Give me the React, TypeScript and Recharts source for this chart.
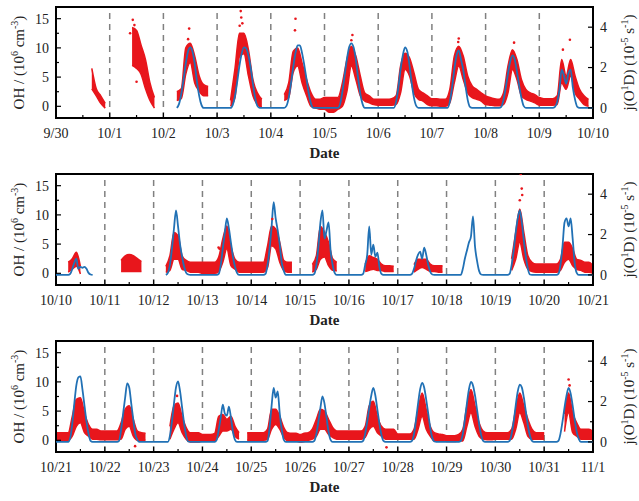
import { ComposedChart, Line, Area, Scatter, XAxis, YAxis, ReferenceLine, ReferenceArea } from 'recharts';

const _ = null;

// date tick labels, index = days since 9/30
const dateLabels = [
  '9/30', '10/1', '10/2', '10/3', '10/4', '10/5', '10/6', '10/7', '10/8', '10/9', '10/10',
  '10/11', '10/12', '10/13', '10/14', '10/15', '10/16', '10/17', '10/18', '10/19', '10/20',
  '10/21', '10/22', '10/23', '10/24', '10/25', '10/26', '10/27', '10/28', '10/29', '10/30',
  '10/31', '11/1',
];

// OH (10^6 cm^-3), spread of the measured points every 2 hours, one row per day
const redHours = [0, 2, 4, 6, 8, 10, 12, 14, 16, 18, 20, 22];
const ohLow = [
  [_, _, _, _, _, _, _, _, 3, 1.8, 0.5, -0.3],
  [_, _, _, _, _, 7, 6.5, 5.5, 3, 1, -0.3, _],
  [_, _, _, 1, 1.3, 5.5, 7.5, 4, 2.6, 1.8, 1.8, _],
  [_, _, _, 0, 1.5, 8.5, 9, 5.2, 1.8, 0.3, -0.2, _],
  [_, _, _, 1, 1.5, 5.8, 6.9, 4, 1.8, 0, -0.3, -0.5],
  [-0.5, -1, -1, -0.5, 0, 2.5, 6.9, 4.6, 1.8, 0.9, 0.6, 0.3],
  [0.2, 0.2, 0.2, 0.2, 0.3, 2.3, 6.3, 5.2, 2.3, 1.2, 0.9, 0.3],
  [0.1, 0.1, 0, 0, 0.6, 4, 6.9, 4.6, 2.3, 1.5, 1.2, 0.9],
  [0.3, 0.2, 0.1, 0.1, 0.3, 2.3, 6.3, 4.6, 1.8, 1.2, 0.9, 0.6],
  [0.2, 0.2, 0.2, 0.2, 0.3, 4, 2.9, 5.2, 2.3, 1.2, 0.3, 0],
  [_, _, _, 0.2, 0.7, 1.2, -0.1, _, _, _, _, _],
  [_, _, _, _, 0.3, 0.3, 0.3, 0.3, 0.3, 0.3, _, _],
  [_, _, _, 0.2, 0.5, 2.4, 2.4, 0.7, 0.5, 0.2, 0.2, 0.2],
  [0, 0, 0, 0, 0.3, 1.9, 4.2, 1.3, 0.7, 0.2, 0.2, 0.2],
  [0.2, 0.2, 0.2, 0.2, 1, 4.7, 4.2, 1.9, 0.5, 0.2, 0.2, _],
  [_, _, _, 0.2, 0.7, 2.4, 2.8, 1.3, 0.5, 0.4, _, _],
  [_, _, _, _, 0.3, 0.5, 0.7, 0.5, 0.5, 0.3, 0.3, 0.3],
  [_, _, _, _, 0.2, 0.7, 1, 0.7, 0.3, 0.3, 0.2, 0.2],
  [_, _, _, _, _, _, _, _, _, _, _, _],
  [_, _, _, _, 0.5, 2.4, 5.3, 2.4, 0.7, 0.3, 0.2, 0.2],
  [0.2, 0.2, 0.2, 0.2, 0.5, 1.9, 2.4, 1.3, 0.7, 0.5, 0.2, 0.2],
  [0, 0, 0, 0, 0.7, 2.4, 3, 1.3, 0.7, 0.2, 0.2, 0.1],
  [0.1, 0.1, 0.1, 0.1, 0.2, 1.9, 2.4, 0.7, 0, 0, 0, _],
  [_, _, _, _, 0.2, 1.9, 3, 1.3, 0.2, -0.3, -0.3, -0.3],
  [-0.1, -0.1, -0.1, -0.1, 0.7, 1.6, 1.6, 1.9, 0.7, 0.2, _, 0],
  [0, 0, 0, 0, 0.2, 1.9, 2.7, 1.9, 0.5, -0.1, -0.1, -0.1],
  [-0.3, -0.2, 0, 0.2, 0.7, 1.9, 1.9, 1, 0.5, 0.2, 0.2, 0.2],
  [0.2, 0.2, 0.2, 0.2, 0.5, 1.9, 2.4, 1.3, 0.7, 0.2, 0.2, 0.2],
  [0.2, 0.2, 0.2, 0.2, 0.2, 1.9, 4.1, 1.9, 0.7, -0.1, -0.1, 0],
  [-0.2, -0.2, -0.2, -0.1, -0.1, 2.4, 4.7, 2.4, 0.7, 0.2, 0.1, 0.1],
  [0.2, 0.2, 0.2, 0.2, 0.2, 1.9, 4.7, 3, 0.7, 0.2, 0.2, 0.2],
  [0.2, _, _, _, _, 1.5, 4.7, 1.3, 0.7, 0.2, 0.2, 0.2],
  [0.2, _, _, _, _, _, _, _, _, _, _, _],
];
const ohHigh = [
  [_, _, _, _, _, _, _, _, 6.5, 3, 1.8, 0.5],
  [_, _, _, _, _, 13.5, 13, 10.5, 8, 4, 1.5, _],
  [_, _, _, 2.5, 3, 10, 10.8, 8.6, 5.2, 3.7, 3.4, _],
  [_, _, _, 1, 6.5, 12.5, 12.5, 9.7, 4.6, 2.3, 1.2, _],
  [_, _, _, 2, 4, 9.4, 10, 7.4, 4.6, 2.3, 1.2, 1.2],
  [1.5, 1.5, 1.5, 1.5, 4, 8, 10.3, 8.6, 5.2, 2.3, 1.8, 1.2],
  [1.2, 1.2, 1.2, 1.3, 1.8, 6.9, 9.1, 8.3, 5.7, 2.9, 2.3, 1.8],
  [1.3, 1.3, 1.2, 1.2, 2.9, 8.6, 10.3, 8.6, 5.2, 3.5, 2.9, 2.3],
  [1.8, 1.5, 1.3, 1.2, 2.3, 6.9, 9.7, 8, 4.6, 2.9, 2.3, 2],
  [1.5, 1.3, 1.3, 1.3, 1.8, 8, 5.2, 8, 5.2, 2.9, 1.8, 1.2],
  [_, _, _, 1.9, 2.5, 3.6, 1.2, _, _, _, _, _],
  [_, _, _, _, 2.2, 3, 3.2, 3, 2.5, 2, _, _],
  [_, _, _, 1.2, 3, 7, 6.4, 3, 2.2, 1.9, 1.9, 1.9],
  [1.9, 1.9, 1.9, 1.9, 2.8, 5.9, 8.1, 4.7, 2.4, 1.9, 1.9, 1.9],
  [1.9, 1.9, 1.9, 1.9, 4.7, 8.1, 7.6, 5.3, 2.2, 1.9, 1.9, _],
  [_, _, _, 1.5, 3, 8, 7, 5.3, 2.5, 1.9, _, _],
  [_, _, _, _, 1.5, 3, 2.7, 2.4, 1.6, 1.3, 1.3, 1.2],
  [_, _, _, _, 1.5, 2.4, 2.4, 2.4, 1.6, 1.3, 1.3, 1.3],
  [_, _, _, _, _, _, _, _, _, _, _, _],
  [_, _, _, _, 2.5, 7, 11, 7, 3, 1.9, 1.6, 1.6],
  [1.6, 1.6, 1.6, 1.6, 2.4, 5.3, 5.3, 4.2, 2.4, 2.2, 1.9, 1.9],
  [1.3, 1.3, 1.3, 1.3, 4.1, 7, 7.3, 4.7, 2.7, 1.9, 1.9, 1.6],
  [1.6, 1.6, 1.6, 1.6, 3, 5.3, 5.9, 3.6, 1.6, 1.3, 1.2, _],
  [_, _, _, _, 2.4, 5.9, 6.4, 4.1, 2.2, 1.3, 1.3, 1.3],
  [1, 1, 1, 1.2, 4.1, 4.4, 3.6, 4.1, 2.4, 1.3, _, 1.3],
  [1.3, 1.3, 1.3, 1.3, 1.9, 5.3, 5.3, 4.1, 2.2, 1.3, 1.2, 1.2],
  [1, 1.2, 1.3, 1.9, 3.6, 5.3, 5, 3.6, 2.2, 1.6, 1.6, 1.6],
  [1.6, 1.6, 1.6, 1.6, 2.4, 5.9, 6.7, 4.1, 2.4, 1.9, 1.9, 1.9],
  [1.1, 1.1, 1.1, 1.1, 1.9, 5.3, 8.1, 5.3, 2.4, 1.3, 1.1, 1],
  [0.8, 0.8, 0.8, 1, 1.9, 5.9, 8.7, 5.9, 3, 1.6, 1.3, 1.3],
  [1.3, 1.3, 1.3, 1.3, 1.9, 5.3, 8.1, 5.9, 3.6, 1.9, 1.3, 1.3],
  [1.3, _, _, _, _, 4.5, 8.1, 4.7, 3, 1.9, 1.9, 1.9],
  [1.5, _, _, _, _, _, _, _, _, _, _, _],
];

// isolated OH points outside the main band
const ohOutlierDay = [1.38, 1.43, 1.46, 1.5, 2.46, 2.48, 3.42, 3.44, 3.45, 3.47, 4.45, 4.46, 5.5, 5.52, 7.49, 7.5, 8.53, 9.44, 9.57, 13.33, 13.35, 14.43, 19.5, 19.52, 19.54, 19.55, 22.62, 23.48, 27.77, 31.5, 31.52];
const ohOutlierValue = [12.5, 14.8, 13.9, 4.2, 11.5, 13.3, 13.8, 16.3, 15.2, 14.2, 13, 15, 11.3, 12.2, 11, 11.6, 10.9, 9.7, 11.4, 4.4, 4.2, 9.3, 12.5, 17, 14.5, 13.4, -1, 7.6, -1.2, 10.4, 9.4];

// j(O1D) (10^-5 s^-1), hourly through daylight, one row per day
const blueHours = [0, 6, 7, 8, 9, 10, 11, 12, 13, 14, 15, 16, 17, 18, 19];
const jO1D = [
  [_, _, _, _, _, _, _, _, _, _, _, _, _, _, _],
  [_, _, _, _, _, _, _, _, _, _, _, _, _, _, _],
  [_, 0, 0.2, 0.7, 1.4, 2.2, 2.8, 3.0, 2.8, 2.2, 1.3, 0.6, 0.15, 0, 0],
  [0, 0, 0.15, 0.6, 1.3, 2.1, 2.7, 3.0, 2.95, 2.6, 2.0, 1.2, 0.5, 0.1, 0],
  [0, 0, 0.1, 0.5, 1.2, 2.0, 2.7, 3.1, 3.1, 2.7, 2.1, 1.4, 0.7, 0.2, 0],
  [0, 0, 0.2, 0.8, 1.6, 2.4, 3.0, 3.2, 3.0, 2.4, 1.5, 0.7, 0.2, 0, 0],
  [0, 0, 0, 0.3, 1.0, 1.9, 2.6, 3.0, 2.8, 2.1, 1.2, 0.5, 0.1, 0, 0],
  [0, 0, 0, 0.3, 1.0, 1.9, 2.6, 2.85, 2.4, 1.9, 1.1, 0.4, 0.05, 0, 0],
  [0, 0, 0.05, 0.4, 1.0, 1.7, 2.3, 2.6, 2.4, 1.8, 1.1, 0.5, 0.1, 0, 0],
  [0, 0, 0.05, 0.3, 0.9, 1.9, 1.6, 1.2, 1.7, 1.9, 1.0, 0.4, 0.05, 0, 0],
  [0, 0, 0.05, 0.3, 0.6, 0.8, 0.3, 0.4, 0.35, 0.4, 0.3, 0.1, 0.02, 0, _],
  [_, _, _, _, _, _, _, _, _, _, _, _, _, _, _],
  [_, 0, 0.1, 0.5, 1.3, 2.3, 3.2, 2.4, 1.5, 0.9, 0.4, 0.1, 0.02, 0, 0],
  [0, 0, 0, 0.05, 0.5, 1.3, 2.1, 2.8, 2.3, 1.6, 0.9, 0.4, 0.1, 0, 0],
  [0, 0, 0.05, 0.5, 1.3, 2.4, 3.6, 2.8, 2.2, 1.5, 0.6, 0.2, 0, 0, 0],
  [0, 0, 0.05, 0.5, 1.4, 2.6, 3.2, 1.8, 2.2, 2.6, 1.2, 0.5, 0.1, 0, 0],
  [0, 0, 0.05, 0.5, 1.0, 2.4, 1.0, 1.5, 0.9, 1.1, 0.4, 0.05, 0, 0, 0],
  [0, 0, 0.05, 0.3, 0.7, 1.0, 1.15, 0.8, 1.35, 1.0, 0.5, 0.15, 0.02, 0, 0],
  [0, 0, 0, 0.3, 0.8, 1.2, 1.6, 1.9, 2.9, 1.4, 0.7, 0.2, 0.02, 0, 0],
  [0, 0, 0.05, 0.5, 1.2, 2.1, 2.8, 3.2, 2.6, 1.7, 0.9, 0.3, 0.02, 0, 0],
  [0, 0, 0.05, 0.5, 1.4, 2.6, 2.8, 2.4, 2.8, 1.8, 0.6, 0.1, 0, 0, 0],
  [0, 0, 0.2, 0.9, 1.9, 2.8, 3.2, 3.25, 2.6, 1.8, 1.0, 0.4, 0.05, 0, 0],
  [0, 0, 0.05, 0.6, 1.4, 2.2, 2.9, 2.7, 1.9, 1.1, 0.4, 0.1, 0, 0, 0],
  [0, 0, 0, 0.3, 1.0, 1.9, 2.7, 3.0, 2.5, 1.7, 0.9, 0.3, 0.02, 0, 0],
  [0, 0, 0.1, 0.6, 1.2, 1.85, 1.4, 1.3, 1.75, 1.2, 0.5, 0.1, 0, 0, 0],
  [0, 0, 0, 0.05, 0.7, 1.8, 2.67, 2.2, 2.5, 1.4, 0.6, 0.1, 0, 0, 0],
  [0, 0, 0.05, 0.4, 1.0, 1.7, 2.26, 1.9, 1.2, 0.5, 0.1, 0, 0, 0, 0],
  [0, 0, 0.05, 0.4, 1.0, 1.7, 2.3, 2.68, 2.3, 1.6, 0.9, 0.35, 0.05, 0, 0],
  [0, 0, 0.05, 0.4, 1.1, 1.9, 2.6, 2.93, 2.7, 2.1, 1.4, 0.7, 0.2, 0.02, 0],
  [0, 0, 0.05, 0.4, 1.1, 1.9, 2.6, 2.97, 2.8, 2.3, 1.6, 0.9, 0.35, 0.05, 0],
  [0, 0, 0.05, 0.4, 1.0, 1.8, 2.5, 2.84, 2.7, 2.2, 1.5, 0.8, 0.3, 0.05, 0],
  [0, 0, 0.05, 0.4, 1.0, 1.7, 2.3, 2.68, 2.4, 1.8, 1.1, 0.5, 0.15, 0, 0],
  [0, _, _, _, _, _, _, _, _, _, _, _, _, _, _],
];

const panels = [
  { from: 0, to: 10, top: 0 },
  { from: 10, to: 21, top: 167 },
  { from: 21, to: 32, top: 334 },
];

const W = 639;
const H = 167;
const PLOT_LEFT = 56;
const PLOT_RIGHT = 593;
const PLOT_TOP = 7;
const PLOT_BOTTOM = 118;
const FONT = '"Liberation Serif", "Times New Roman", serif';
const RED = '#e8161c';
const BLUE = '#2171b5';

const buildRed = (from: number, to: number) => {
  const rows: { t: number; band: (number | null)[] }[] = [];
  for (let d = from; d <= to; d++) {
    redHours.forEach((h, i) => {
      const t = d + h / 24;
      if (t > to) return;
      const lo = ohLow[d][i];
      const hi = ohHigh[d][i];
      rows.push({ t, band: lo == null || hi == null ? [null, null] : [lo, hi] });
    });
  }
  return rows;
};

const buildBlue = (from: number, to: number) => {
  const rows: { t: number; j: number | null }[] = [];
  for (let d = from; d <= to; d++) {
    blueHours.forEach((h, i) => {
      const t = d + h / 24;
      if (t > to) return;
      rows.push({ t, j: jO1D[d][i] });
    });
  }
  return rows;
};

const buildOutliers = (from: number, to: number) =>
  ohOutlierDay
    .map((t, i) => ({ t, v: ohOutlierValue[i] }))
    .filter((p) => p.t >= from && p.t <= to);

const XTick = (props: any) => {
  const { x, payload } = props;
  const v = payload.value;
  const major = Number.isInteger(v);
  return (
    <g>
      <line x1={x} x2={x} y1={PLOT_BOTTOM} y2={PLOT_BOTTOM - (major ? 5 : 3)} stroke="#000" strokeWidth={1.2} />
      {major && (
        <text x={x} y={PLOT_BOTTOM + 15} dy="0.35em" textAnchor="middle" fontFamily={FONT} fontSize={14} fill="#222">
          {dateLabels[v]}
        </text>
      )}
    </g>
  );
};

const LeftTick = (props: any) => {
  const { y, payload } = props;
  const v = payload.value;
  const major = v % 5 === 0;
  return (
    <g>
      <line x1={PLOT_LEFT} x2={PLOT_LEFT + (major ? 5 : 3)} y1={y} y2={y} stroke="#000" strokeWidth={1.2} />
      {major && (
        <text x={PLOT_LEFT - 7} y={y} dy="0.35em" textAnchor="end" fontFamily={FONT} fontSize={14} fill="#222">
          {v}
        </text>
      )}
    </g>
  );
};

const RightTick = (props: any) => {
  const { y, payload } = props;
  const v = payload.value;
  const major = v % 2 === 0;
  return (
    <g>
      <line x1={PLOT_RIGHT} x2={PLOT_RIGHT - (major ? 5 : 3)} y1={y} y2={y} stroke="#000" strokeWidth={1.2} />
      {major && (
        <text x={PLOT_RIGHT + 7} y={y} dy="0.35em" textAnchor="start" fontFamily={FONT} fontSize={14} fill="#222">
          {v}
        </text>
      )}
    </g>
  );
};

const RedDot = (props: any) => <circle cx={props.cx} cy={props.cy} r={1.3} fill={RED} />;

// same axes for the background layer (dashed day lines) and the data layer
const axes = (from: number, to: number, xTicks: number[], withTicks: boolean) => [
  <XAxis
    key="x"
    dataKey="t"
    type="number"
    domain={[from, to]}
    ticks={xTicks}
    interval={0}
    allowDataOverflow
    height={H - PLOT_BOTTOM}
    axisLine={false}
    tickLine={false}
    tick={withTicks ? (p: any) => <XTick {...p} /> : false}
  />,
  <YAxis
    key="oh"
    yAxisId="oh"
    type="number"
    domain={[-2, 17]}
    ticks={[0, 2.5, 5, 7.5, 10, 12.5, 15]}
    interval={0}
    allowDataOverflow
    width={PLOT_LEFT}
    axisLine={false}
    tickLine={false}
    tick={withTicks ? (p: any) => <LeftTick {...p} /> : false}
  />,
  <YAxis
    key="j"
    yAxisId="j"
    orientation="right"
    type="number"
    domain={[-0.5, 5]}
    ticks={[0, 1, 2, 3, 4]}
    interval={0}
    allowDataOverflow
    width={W - PLOT_RIGHT}
    axisLine={false}
    tickLine={false}
    tick={withTicks ? (p: any) => <RightTick {...p} /> : false}
  />,
];

const Panel = ({ from, to, top }: { from: number; to: number; top: number }) => {
  const xTicks: number[] = [];
  for (let v = from; v <= to; v += 0.5) xTicks.push(v);
  const dayLines: number[] = [];
  for (let d = from + 1; d < to; d++) dayLines.push(d);
  const margin = { top: PLOT_TOP, right: 0, bottom: 0, left: 0 };

  return (
    <div style={{ position: 'absolute', left: 0, top, width: W, height: H }}>
      <div style={{ position: 'absolute', left: 0, top: 0 }}>
        <ComposedChart width={W} height={H} margin={margin}>
          {axes(from, to, xTicks, false)}
          {dayLines.map((d) => (
            <ReferenceLine key={d} x={d} yAxisId="oh" stroke="#808080" strokeWidth={1.5} strokeDasharray="6 5" />
          ))}
        </ComposedChart>
      </div>
      <div style={{ position: 'absolute', left: 0, top: 0 }}>
        <ComposedChart width={W} height={H} margin={margin}>
          {axes(from, to, xTicks, true)}
          <Area
            data={buildRed(from, to)}
            yAxisId="oh"
            dataKey="band"
            type="monotone"
            stroke={RED}
            strokeWidth={1.5}
            fill={RED}
            fillOpacity={1}
            dot={false}
            activeDot={false}
            connectNulls={false}
            isAnimationActive={false}
          />
          <Line
            data={buildBlue(from, to)}
            yAxisId="j"
            dataKey="j"
            type="monotone"
            stroke={BLUE}
            strokeWidth={1.8}
            dot={false}
            activeDot={false}
            connectNulls={false}
            isAnimationActive={false}
          />
          <Scatter data={buildOutliers(from, to)} yAxisId="oh" dataKey="v" shape={RedDot} isAnimationActive={false} />
          <ReferenceArea
            x1={from}
            x2={to}
            y1={-2}
            y2={17}
            yAxisId="oh"
            fill="none"
            stroke="#000"
            strokeWidth={2}
            ifOverflow="visible"
          />
        </ComposedChart>
      </div>
    </div>
  );
};

const Titles = () => (
  <svg width={W} height={501} style={{ position: 'absolute', left: 0, top: 0, pointerEvents: 'none' }}>
    {panels.map((p) => {
      const cy = p.top + (PLOT_TOP + PLOT_BOTTOM) / 2;
      return (
        <g key={p.from} fontFamily={FONT} fill="#222">
          <text transform={`translate(19,${cy}) rotate(-90)`} textAnchor="middle" dy="0.35em" fontSize={15}>
            OH / (10<tspan dy={-6} fontSize={10}>6</tspan>
            <tspan dy={6}> cm</tspan>
            <tspan dy={-6} fontSize={10}>-3</tspan>
            <tspan dy={6}>)</tspan>
          </text>
          <text transform={`translate(629,${cy}) rotate(-90)`} textAnchor="middle" dy="0.35em" fontSize={15}>
            j(O<tspan dy={-6} fontSize={10}>1</tspan>
            <tspan dy={6}>D) (10</tspan>
            <tspan dy={-6} fontSize={10}>-5</tspan>
            <tspan dy={6}> s</tspan>
            <tspan dy={-6} fontSize={10}>-1</tspan>
            <tspan dy={6}>)</tspan>
          </text>
          <text x={(PLOT_LEFT + PLOT_RIGHT) / 2} y={p.top + 158} textAnchor="middle" fontSize={15} fontWeight="bold">
            Date
          </text>
        </g>
      );
    })}
  </svg>
);

export default function App() {
  return (
    <div style={{ position: 'absolute', left: 0, top: 0, width: W, height: 501, background: '#fff' }}>
      {panels.map((p) => (
        <Panel key={p.from} {...p} />
      ))}
      <Titles />
    </div>
  );
}
